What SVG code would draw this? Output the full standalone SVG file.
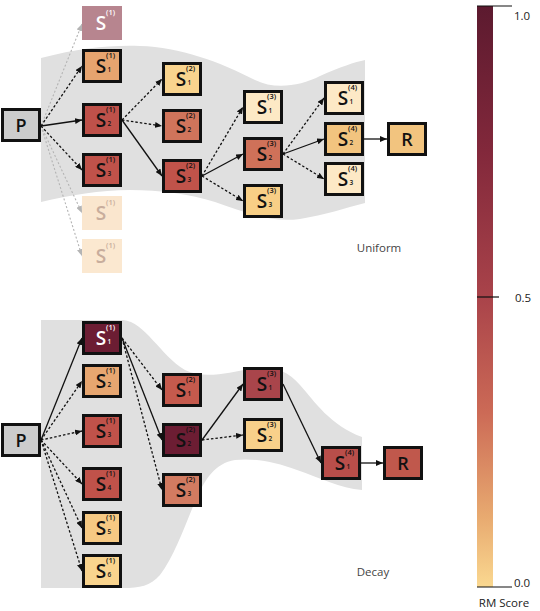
<svg xmlns="http://www.w3.org/2000/svg" width="540" height="611" viewBox="0 0 540 611">
<defs>
<style>
text{font-family:"Open Sans","Noto Sans","DejaVu Sans",sans-serif;fill:#111}
.node{stroke:#111;stroke-width:3}
.s{font-size:19px;font-weight:600;text-anchor:middle}
.sup{font-size:7.5px;font-weight:600}
.sub{font-size:6.5px;font-weight:600}
.pr{font-size:18px;font-weight:600;text-anchor:middle}
.w{fill:#fff}
.fade{fill:#c8ad9c}
.lab{font-size:11.5px;fill:#444;text-anchor:middle}
.cb{font-size:11.5px;fill:#222}
.band{fill:#e0e0e0}
.c{fill:none;stroke:#111;stroke-width:1.3;marker-end:url(#ah)}
.d{stroke-dasharray:2.5,2}
.g{fill:none;stroke:#b4b4b4;stroke-width:1.1;stroke-dasharray:2,2;marker-end:url(#ahg)}
.tick{stroke:#111;stroke-width:1.2}
</style>
<marker id="ah" markerUnits="userSpaceOnUse" markerWidth="7" markerHeight="6" refX="7" refY="3" orient="auto"><path d="M0,0 L7,3 L0,6 z" fill="#111"/></marker>
<marker id="ahg" markerUnits="userSpaceOnUse" markerWidth="7" markerHeight="6" refX="7" refY="3" orient="auto"><path d="M0,0 L7,3 L0,6 z" fill="#b4b4b4"/></marker>
<linearGradient id="cbar" x1="0" y1="1" x2="0" y2="0">
<stop offset="0" stop-color="#fad890"/>
<stop offset="0.12" stop-color="#e8aa70"/>
<stop offset="0.3" stop-color="#cc6a56"/>
<stop offset="0.5" stop-color="#a9434a"/>
<stop offset="0.75" stop-color="#82283b"/>
<stop offset="1" stop-color="#5c1a2f"/>
</linearGradient>
</defs>
<rect width="540" height="611" fill="#fff"/>

<g id="bands">
<path class="band" d="M41,58 C80,48 110,45 140,46 C180,47 220,62 255,80 C275,90 300,86 320,76 C340,67 355,62 365,60 L365,203 C345,208 325,215 300,219 C270,223 245,212 215,202 C190,194 160,190 130,190 C100,190 70,195 41,202 Z"/>
<path class="band" d="M41,320 L123,320 C145,322 160,355 185,370 C205,380 230,372 250,369 C270,366 285,368 300,385 C315,402 330,425 362,437 L362,490 C340,488 320,478 297,470 C275,462 255,458 235,460 C215,463 205,480 197,497 C185,525 175,555 160,575 C150,586 140,588 123,588 L41,588 Z"/>
</g>

<g id="connectors">
<line class="g" x1="41" y1="126" x2="82" y2="24"/>
<line class="g" x1="41" y1="126" x2="82" y2="213"/>
<line class="g" x1="41" y1="126" x2="82" y2="256"/>
<line class="c d" x1="41" y1="126" x2="82" y2="66"/>
<line class="c" x1="41" y1="126" x2="82" y2="120"/>
<line class="c d" x1="41" y1="126" x2="82" y2="170"/>
<line class="c d" x1="122" y1="120" x2="162" y2="79"/>
<line class="c d" x1="122" y1="120" x2="162" y2="126"/>
<line class="c" x1="122" y1="120" x2="162" y2="176"/>
<line class="c d" x1="202" y1="176" x2="243" y2="107"/>
<line class="c" x1="202" y1="176" x2="243" y2="154"/>
<line class="c d" x1="202" y1="176" x2="243" y2="201"/>
<line class="c d" x1="283" y1="154" x2="324" y2="98"/>
<line class="c" x1="283" y1="154" x2="324" y2="139"/>
<line class="c d" x1="283" y1="154" x2="324" y2="179"/>
<line class="c" x1="364" y1="139" x2="387" y2="139"/>

<line class="c" x1="41" y1="440" x2="82" y2="338"/>
<line class="c d" x1="41" y1="440" x2="82" y2="381"/>
<line class="c d" x1="41" y1="440" x2="82" y2="431"/>
<line class="c d" x1="41" y1="440" x2="82" y2="484"/>
<line class="c d" x1="41" y1="440" x2="82" y2="528"/>
<line class="c d" x1="41" y1="440" x2="82" y2="571"/>
<line class="c d" x1="122" y1="338" x2="162" y2="390"/>
<line class="c" x1="122" y1="338" x2="162" y2="440"/>
<line class="c d" x1="122" y1="338" x2="162" y2="490"/>
<line class="c" x1="202" y1="440" x2="243" y2="384"/>
<line class="c d" x1="202" y1="440" x2="243" y2="435"/>
<line class="c" x1="283" y1="384" x2="321" y2="463"/>
<line class="c" x1="361" y1="463" x2="383" y2="463"/>
</g>

<!-- Uniform -->
<g id="u-p"><rect class="node" x="2.5" y="109.5" width="37" height="31" fill="#cccccc"/><text class="pr" x="21" y="132">P</text></g>
<g id="u-f0"><rect x="82" y="6" width="40" height="34" fill="#b7858f"/><text class="s w" x="101" y="29.5">S</text><text class="sup w" x="106" y="15">(1)</text></g>
<g id="u-s1-1"><rect class="node" x="83.5" y="50.5" width="37" height="31" fill="#e6a46f"/><text class="s" x="101" y="72.5">S</text><text class="sup" x="106" y="58">(1)</text><text class="sub" x="107.5" y="72">1</text></g>
<g id="u-s1-2"><rect class="node" x="83.5" y="104.5" width="37" height="31" fill="#bf514a"/><text class="s" x="101" y="126.5">S</text><text class="sup" x="106" y="112">(1)</text><text class="sub" x="107.5" y="126">2</text></g>
<g id="u-s1-3"><rect class="node" x="83.5" y="154.5" width="37" height="31" fill="#c0524a"/><text class="s" x="101" y="176.5">S</text><text class="sup" x="106" y="162">(1)</text><text class="sub" x="107.5" y="176">3</text></g>
<g id="u-f1"><rect x="82" y="196" width="40" height="34" fill="#fae6ce"/><text class="s fade" x="101" y="219.5">S</text><text class="sup fade" x="106" y="205">(1)</text></g>
<g id="u-f2"><rect x="82" y="239" width="40" height="34" fill="#fbe8d0"/><text class="s fade" x="101" y="262.5">S</text><text class="sup fade" x="106" y="248">(1)</text></g>
<g id="u-s2-1"><rect class="node" x="163.5" y="63.5" width="37" height="31" fill="#f9d48e"/><text class="s" x="181" y="85.5">S</text><text class="sup" x="186" y="71">(2)</text><text class="sub" x="187.5" y="85">1</text></g>
<g id="u-s2-2"><rect class="node" x="163.5" y="110.5" width="37" height="31" fill="#d0745b"/><text class="s" x="181" y="132.5">S</text><text class="sup" x="186" y="118">(2)</text><text class="sub" x="187.5" y="132">2</text></g>
<g id="u-s2-3"><rect class="node" x="163.5" y="160.5" width="37" height="31" fill="#c0534a"/><text class="s" x="181" y="182.5">S</text><text class="sup" x="186" y="168">(2)</text><text class="sub" x="187.5" y="182">3</text></g>
<g id="u-s3-1"><rect class="node" x="244.5" y="91.5" width="37" height="31" fill="#fde9c5"/><text class="s" x="262" y="113.5">S</text><text class="sup" x="267" y="99">(3)</text><text class="sub" x="268.5" y="113">1</text></g>
<g id="u-s3-2"><rect class="node" x="244.5" y="138.5" width="37" height="31" fill="#cf7159"/><text class="s" x="262" y="160.5">S</text><text class="sup" x="267" y="146">(3)</text><text class="sub" x="268.5" y="160">2</text></g>
<g id="u-s3-3"><rect class="node" x="244.5" y="185.5" width="37" height="31" fill="#f8cf86"/><text class="s" x="262" y="207.5">S</text><text class="sup" x="267" y="193">(3)</text><text class="sub" x="268.5" y="207">3</text></g>
<g id="u-s4-1"><rect class="node" x="325.5" y="82.5" width="37" height="31" fill="#fde9c6"/><text class="s" x="343" y="104.5">S</text><text class="sup" x="348" y="90">(4)</text><text class="sub" x="349.5" y="104">1</text></g>
<g id="u-s4-2"><rect class="node" x="325.5" y="123.5" width="37" height="31" fill="#f2c47f"/><text class="s" x="343" y="145.5">S</text><text class="sup" x="348" y="131">(4)</text><text class="sub" x="349.5" y="145">2</text></g>
<g id="u-s4-3"><rect class="node" x="325.5" y="163.5" width="37" height="31" fill="#fde9c6"/><text class="s" x="343" y="185.5">S</text><text class="sup" x="348" y="171">(4)</text><text class="sub" x="349.5" y="185">3</text></g>
<g id="u-r"><rect class="node" x="388.5" y="123.5" width="37" height="31" fill="#f2c47f"/><text class="pr" x="407" y="145.5">R</text></g>
<text class="lab" x="379" y="252">Uniform</text>

<!-- Decay -->
<g id="d-p"><rect class="node" x="2.5" y="424.5" width="37" height="31" fill="#cccccc"/><text class="pr" x="21" y="447">P</text></g>
<g id="d-s1-1"><rect class="node" x="83.5" y="322.5" width="37" height="31" fill="#6c1d33"/><text class="s w" x="101" y="344.5">S</text><text class="sup w" x="106" y="330">(1)</text><text class="sub w" x="107.5" y="344">1</text></g>
<g id="d-s1-2"><rect class="node" x="83.5" y="365.5" width="37" height="31" fill="#e7a670"/><text class="s" x="101" y="387.5">S</text><text class="sup" x="106" y="373">(1)</text><text class="sub" x="107.5" y="387">2</text></g>
<g id="d-s1-3"><rect class="node" x="83.5" y="415.5" width="37" height="31" fill="#c0524a"/><text class="s" x="101" y="437.5">S</text><text class="sup" x="106" y="423">(1)</text><text class="sub" x="107.5" y="437">3</text></g>
<g id="d-s1-4"><rect class="node" x="83.5" y="468.5" width="37" height="31" fill="#c0524a"/><text class="s" x="101" y="490.5">S</text><text class="sup" x="106" y="476">(1)</text><text class="sub" x="107.5" y="490">4</text></g>
<g id="d-s1-5"><rect class="node" x="83.5" y="512.5" width="37" height="31" fill="#f6c983"/><text class="s" x="101" y="534.5">S</text><text class="sup" x="106" y="520">(1)</text><text class="sub" x="107.5" y="534">5</text></g>
<g id="d-s1-6"><rect class="node" x="83.5" y="555.5" width="37" height="31" fill="#f9d48e"/><text class="s" x="101" y="577.5">S</text><text class="sup" x="106" y="563">(1)</text><text class="sub" x="107.5" y="577">6</text></g>
<g id="d-s2-1"><rect class="node" x="163.5" y="374.5" width="37" height="31" fill="#c55a4d"/><text class="s" x="181" y="396.5">S</text><text class="sup" x="186" y="382">(2)</text><text class="sub" x="187.5" y="396">1</text></g>
<g id="d-s2-2"><rect class="node" x="163.5" y="424.5" width="37" height="31" fill="#6c1d33"/><text class="s" x="181" y="446.5">S</text><text class="sup" x="186" y="432">(2)</text><text class="sub" x="187.5" y="446">2</text></g>
<g id="d-s2-3"><rect class="node" x="163.5" y="474.5" width="37" height="31" fill="#d27b61"/><text class="s" x="181" y="496.5">S</text><text class="sup" x="186" y="482">(2)</text><text class="sub" x="187.5" y="496">3</text></g>
<g id="d-s3-1"><rect class="node" x="244.5" y="368.5" width="37" height="31" fill="#a9454b"/><text class="s" x="262" y="390.5">S</text><text class="sup" x="267" y="376">(3)</text><text class="sub" x="268.5" y="390">1</text></g>
<g id="d-s3-2"><rect class="node" x="244.5" y="419.5" width="37" height="31" fill="#f8d08a"/><text class="s" x="262" y="441.5">S</text><text class="sup" x="267" y="427">(3)</text><text class="sub" x="268.5" y="441">2</text></g>
<g id="d-s4-1"><rect class="node" x="322.5" y="447.5" width="37" height="31" fill="#b94e4a"/><text class="s" x="340" y="469.5">S</text><text class="sup" x="345" y="455">(4)</text><text class="sub" x="346.5" y="469">1</text></g>
<g id="d-r"><rect class="node" x="384.5" y="447.5" width="37" height="31" fill="#c0584c"/><text class="pr" x="403" y="469.5">R</text></g>
<text class="lab" x="373" y="576">Decay</text>

<!-- Colorbar -->
<g id="colorbar">
<rect x="477" y="6" width="16" height="581" fill="url(#cbar)"/>
<line class="tick" x1="477" y1="6" x2="512" y2="6"/>
<line class="tick" x1="477" y1="297" x2="499" y2="297"/>
<line class="tick" x1="477" y1="587" x2="512" y2="587"/>
<text class="cb" x="514" y="20">1.0</text>
<text class="cb" x="515" y="302">0.5</text>
<text class="cb" x="514" y="587">0.0</text>
<text class="cb" x="504" y="607" text-anchor="middle">RM Score</text>
</g>
</svg>
